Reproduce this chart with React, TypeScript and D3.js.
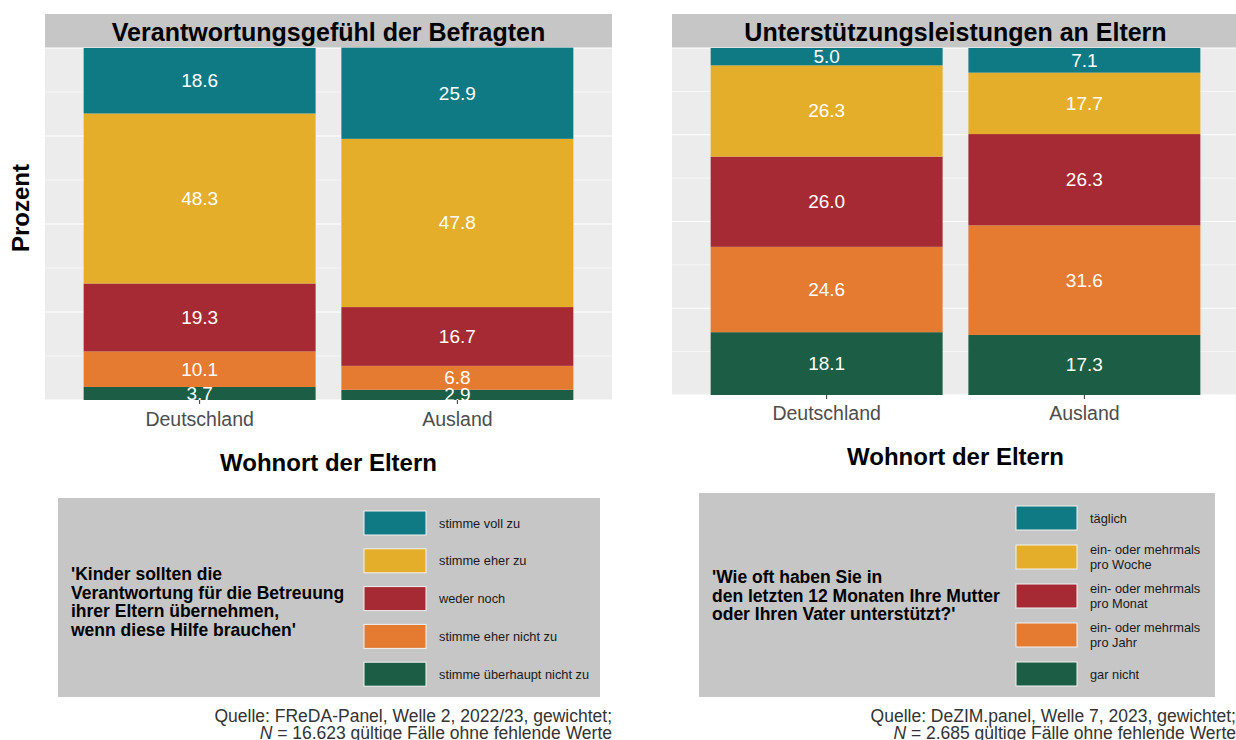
import React from "react";
import * as d3 from "d3";

// categories on the x axis
const categories = ["Deutschland", "Ausland"];

// left chart: agreement, top segment first
const agreeKeys = ["stimme voll zu", "stimme eher zu", "weder noch", "stimme eher nicht zu", "stimme überhaupt nicht zu"];
const agreeDeutschland = [18.6, 48.3, 19.3, 10.1, 3.7];
const agreeAusland = [25.9, 47.8, 16.7, 6.8, 2.9];

// right chart: support frequency, top segment first
const supportKeys = ["täglich", "ein- oder mehrmals pro Woche", "ein- oder mehrmals pro Monat", "ein- oder mehrmals pro Jahr", "gar nicht"];
const supportLabels = [["täglich"], ["ein- oder mehrmals", "pro Woche"], ["ein- oder mehrmals", "pro Monat"], ["ein- oder mehrmals", "pro Jahr"], ["gar nicht"]];
const supportDeutschland = [5.0, 26.3, 26.0, 24.6, 18.1];
const supportAusland = [7.1, 17.7, 26.3, 31.6, 17.3];

const palette = ["#0f7a83", "#e4ae2a", "#a62a33", "#e57a31", "#1c5e45"];

const majorTicks = [0, 25, 50, 75, 100];
const minorTicks = [12.5, 37.5, 62.5, 87.5];

const FONT = "'Liberation Sans', Arial, sans-serif";

interface PanelProps {
  left: number;
  top: number;
  bottom: number;
  width: number;
  title: string;
  keys: string[];
  values: number[][];
  showY?: boolean;
  catLabelY: number;
  axisTitleY: number;
}

const Panel: React.FC<PanelProps> = ({ left, top, bottom, width, title, keys, values, showY, catLabelY, axisTitleY }) => {
  const x = d3.scaleBand<string>().domain(categories).range([0, width]).paddingInner(0.1).paddingOuter(0.15);
  const y = d3.scaleLinear().domain([0, 100]).range([bottom - top, 0]);
  const fmt = d3.format(".1f");

  const rows = categories.map((c, i) => {
    const r: any = { cat: c };
    keys.forEach((k, j) => (r[k] = values[i][j]));
    return r;
  });
  const stackKeys = keys.slice().reverse();
  const series = d3.stack<any>().keys(stackKeys)(rows);

  return (
    <g transform={`translate(${left},0)`}>
      {/* strip */}
      <rect x={0} y={14} width={width} height={top - 14} fill="#c6c6c6" />
      <text x={width / 2} y={(14 + top) / 2 + 1} textAnchor="middle" dominantBaseline="central"
        fontFamily={FONT} fontWeight="bold" fontSize={25} fill="#000">{title}</text>
      <g transform={`translate(0,${top})`}>
        <rect x={0} y={0} width={width} height={bottom - top} fill="#ececec" />
        {minorTicks.map(t => (
          <line key={"mi" + t} x1={0} x2={width} y1={y(t)} y2={y(t)} stroke="#fff" strokeWidth={0.6} />
        ))}
        {majorTicks.map(t => (
          <line key={"ma" + t} x1={0} x2={width} y1={y(t)} y2={y(t)} stroke="#fff" strokeWidth={1.2} />
        ))}
        {series.map(s => {
          const ci = keys.indexOf(s.key);
          return (
            <g key={s.key} fill={palette[ci]}>
              {s.map(d => (
                <rect key={d.data.cat} x={x(d.data.cat)} y={y(d[1])} width={x.bandwidth()} height={y(d[0]) - y(d[1])} />
              ))}
            </g>
          );
        })}
        {series.map(s => (
          <g key={"l" + s.key}>
            {s.map(d => (
              <text key={d.data.cat} x={(x(d.data.cat) || 0) + x.bandwidth() / 2} y={(y(d[0]) + y(d[1])) / 2}
                textAnchor="middle" dominantBaseline="central" fontFamily={FONT} fontSize={19} fill="#fff">
                {fmt(d[1] - d[0])}
              </text>
            ))}
          </g>
        ))}
        {categories.map(c => (
          <g key={c}>
            <line x1={(x(c) || 0) + x.bandwidth() / 2} x2={(x(c) || 0) + x.bandwidth() / 2} y1={bottom - top} y2={bottom - top + 4}
              stroke="#333" strokeWidth={1} />
            <text x={(x(c) || 0) + x.bandwidth() / 2} y={catLabelY - top} textAnchor="middle" dominantBaseline="central"
              fontFamily={FONT} fontSize={19.5} fill="#4d4d4d">{c}</text>
          </g>
        ))}
      </g>
      <text x={width / 2} y={axisTitleY} textAnchor="middle" dominantBaseline="central"
        fontFamily={FONT} fontWeight="bold" fontSize={24} fill="#000">Wohnort der Eltern</text>
      {showY && (
        <text transform={`translate(${20 - left},${(top + bottom) / 2 - 16}) rotate(-90)`} textAnchor="middle"
          dominantBaseline="central" fontFamily={FONT} fontWeight="bold" fontSize={24} fill="#000">Prozent</text>
      )}
    </g>
  );
};

interface LegendProps {
  x: number;
  y: number;
  w: number;
  h: number;
  titleLines: string[];
  titleX: number;
  titleY: number;
  labels: string[][];
  keyX: number;
  keyW: number;
  keyH: number;
  rowY0: number;
  rowStep: number;
}

const Legend: React.FC<LegendProps> = ({ x, y, w, h, titleLines, titleX, titleY, labels, keyX, keyW, keyH, rowY0, rowStep }) => (
  <g>
    <rect x={x} y={y} width={w} height={h} fill="#c6c6c6" />
    {titleLines.map((t, i) => (
      <text key={i} x={titleX} y={titleY + i * 18.5} dominantBaseline="central" fontFamily={FONT}
        fontWeight="bold" fontSize={17.5} fill="#000">{t}</text>
    ))}
    {labels.map((lines, i) => {
      const cy = rowY0 + i * rowStep;
      return (
        <g key={i}>
          <rect x={keyX} y={cy - keyH / 2} width={keyW} height={keyH} fill={palette[i]} stroke="#f2f2f2" strokeWidth={1} />
          {lines.map((l, j) => (
            <text key={j} x={keyX + keyW + 13} y={cy + (j - (lines.length - 1) / 2) * 14.5} dominantBaseline="central"
              fontFamily={FONT} fontSize={12.8} fill="#1a1a1a">{l}</text>
          ))}
        </g>
      );
    })}
  </g>
);

const Source: React.FC<{ right: number; line1: string; n: string; rest: string }> = ({ right, line1, n, rest }) => (
  <g fontFamily={FONT} fontSize={17.5} fill="#333">
    <text x={right} y={716} textAnchor="end" dominantBaseline="central">{line1}</text>
    <text x={right} y={733} textAnchor="end" dominantBaseline="central">
      <tspan fontStyle="italic">N</tspan>{` = ${n}${rest}`}
    </text>
  </g>
);

export default function App() {
  return (
    <div style={{ position: "absolute", left: 0, top: 0 }}>
      <svg width={1236} height={740} style={{ display: "block", background: "#fff" }}>
        <Panel left={45} top={48} bottom={400} width={567} title="Verantwortungsgefühl der Befragten"
          keys={agreeKeys} values={[agreeDeutschland, agreeAusland]} showY catLabelY={419} axisTitleY={462} />
        <Panel left={672} top={48} bottom={395} width={567} title="Unterstützungsleistungen an Eltern"
          keys={supportKeys} values={[supportDeutschland, supportAusland]} catLabelY={413} axisTitleY={456} />
        <Legend x={58} y={498} w={542} h={199}
          titleLines={["'Kinder sollten die", "Verantwortung für die Betreuung", "ihrer Eltern übernehmen,", "wenn diese Hilfe brauchen'"]}
          titleX={71} titleY={574} labels={agreeKeys.map(k => [k])} keyX={364} keyW={62} keyH={24} rowY0={523} rowStep={37.8} />
        <Legend x={699} y={493} w={516} h={204}
          titleLines={["'Wie oft haben Sie in", "den letzten 12 Monaten Ihre Mutter", "oder Ihren Vater unterstützt?'"]}
          titleX={712} titleY={577} labels={supportLabels} keyX={1016} keyW={61} keyH={24} rowY0={518} rowStep={39} />
        <Source right={612} line1="Quelle: FReDA-Panel, Welle 2, 2022/23, gewichtet;" n="16.623" rest=" gültige Fälle ohne fehlende Werte" />
        <Source right={1236} line1="Quelle: DeZIM.panel, Welle 7, 2023, gewichtet;" n="2.685" rest=" gültige Fälle ohne fehlende Werte" />
      </svg>
    </div>
  );
}
